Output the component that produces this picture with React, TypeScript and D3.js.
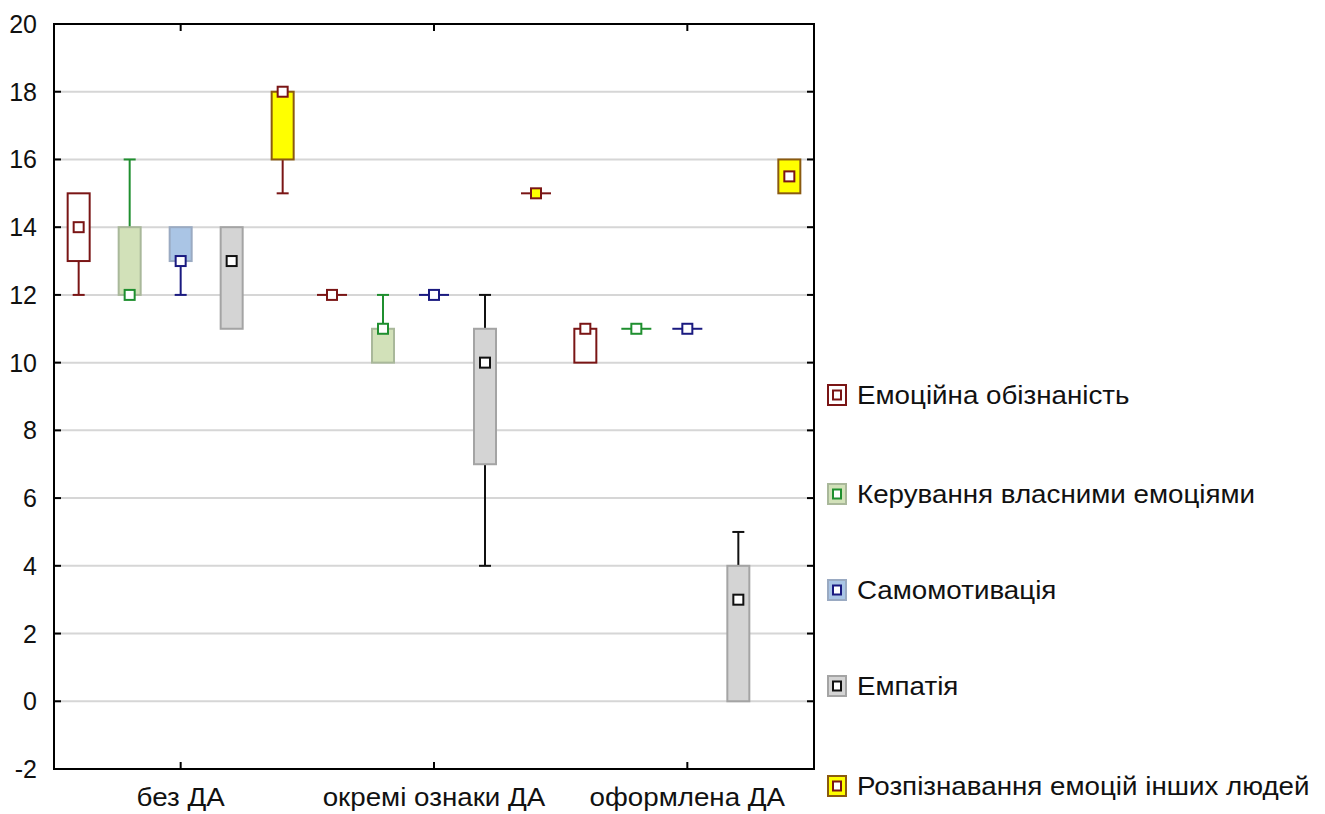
import React from "react";
import * as d3 from "d3";

const categories = ["без ДА", "окремі ознаки ДА", "оформлена ДА"];
const seriesNames = [
  "Емоційна обізнаність",
  "Керування власними емоціями",
  "Самомотивація",
  "Емпатія",
  "Розпізнавання емоцій інших людей",
];
// per series, per category
const medianValues = [[14, 12, 11], [12, 11, 11], [13, 12, 11], [13, 10, 3], [18, 15, 15.5]];
const q1Values = [[13, 12, 10], [12, 10, 11], [13, 12, 11], [11, 7, 0], [16, 15, 15]];
const q3Values = [[15, 12, 11], [14, 11, 11], [14, 12, 11], [14, 11, 4], [18, 15, 16]];
const minValues = [[12, 12, 10], [12, 10, 11], [12, 12, 11], [11, 4, 0], [15, 15, 15]];
const maxValues = [[15, 12, 11], [16, 12, 11], [14, 12, 11], [14, 12, 5], [18, 15, 16]];
const yTicks = [-2, 0, 2, 4, 6, 8, 10, 12, 14, 16, 18, 20];

const boxFills = ["#ffffff", "#d2e1b9", "#aac5e5", "#d4d4d4", "#ffff00"];
const boxStrokes = ["#7a1515", "#a9b89a", "#9aaac2", "#a4a4a4", "#8a5a10"];
const lineColors = ["#7a1515", "#1f8f2f", "#1a1a80", "#111111", "#7a1515"];
const flatMarkerFills = ["#ffffff", "#ffffff", "#ffffff", "#ffffff", "#ffff00"];

const FONT = "'Liberation Sans', Arial, sans-serif";

export default function App() {
  const left = 54, right = 814, top = 24, bottom = 769;
  const y = d3.scaleLinear().domain([-2, 20]).range([bottom, top]);
  const x = d3.scaleBand<string>().domain(categories).range([left, right]);
  const inner = d3.scalePoint<string>().domain(seriesNames).range([-102, 102]);
  const bw = 22, cap = 12, ms = 10;

  const marks: React.ReactNode[] = [];
  seriesNames.forEach((s, si) => {
    categories.forEach((c, ci) => {
      const cx = (x(c) as number) + x.bandwidth() / 2 + (inner(s) as number);
      const q1 = q1Values[si][ci], q3 = q3Values[si][ci];
      const mn = minValues[si][ci], mx = maxValues[si][ci], md = medianValues[si][ci];
      const col = lineColors[si];
      const k = `${si}-${ci}`;
      if (mx > q3) {
        marks.push(<line key={k + "wu"} x1={cx} x2={cx} y1={y(q3)} y2={y(mx)} stroke={col} strokeWidth={2} />);
        marks.push(<line key={k + "cu"} x1={cx - cap / 2} x2={cx + cap / 2} y1={y(mx)} y2={y(mx)} stroke={col} strokeWidth={2} />);
      }
      if (mn < q1) {
        marks.push(<line key={k + "wl"} x1={cx} x2={cx} y1={y(q1)} y2={y(mn)} stroke={col} strokeWidth={2} />);
        marks.push(<line key={k + "cl"} x1={cx - cap / 2} x2={cx + cap / 2} y1={y(mn)} y2={y(mn)} stroke={col} strokeWidth={2} />);
      }
      if (q3 > q1) {
        marks.push(
          <rect key={k + "b"} x={cx - bw / 2} y={y(q3)} width={bw} height={y(q1) - y(q3)}
            fill={boxFills[si]} stroke={boxStrokes[si]} strokeWidth={2} />
        );
      } else {
        marks.push(<line key={k + "z"} x1={cx - 15} x2={cx + 15} y1={y(q1)} y2={y(q1)} stroke={col} strokeWidth={2} />);
      }
      marks.push(
        <rect key={k + "m"} x={cx - ms / 2} y={y(md) - ms / 2} width={ms} height={ms}
          fill={q3 > q1 ? "#ffffff" : flatMarkerFills[si]} stroke={col} strokeWidth={2} />
      );
    });
  });

  const legendY = [395, 494, 590, 686, 786];
  const stretch = (ax: number) => `translate(${ax},0) scale(1.11,1) translate(${-ax},0)`;

  return (
    <svg width={1325} height={814} style={{ position: "absolute", left: 0, top: 0, background: "#fff" }}
      fontFamily={FONT}>
      <rect x={0} y={0} width={1325} height={814} fill="#ffffff" />
      {yTicks.filter((t) => t > -2 && t < 20).map((t) => (
        <line key={"g" + t} x1={left} x2={right} y1={y(t)} y2={y(t)} stroke="#d6d6d6" strokeWidth={2} />
      ))}
      {yTicks.map((t) => (
        <g key={"t" + t}>
          <line x1={left} x2={left + 7} y1={y(t)} y2={y(t)} stroke="#000" strokeWidth={2} />
          <line x1={right - 7} x2={right} y1={y(t)} y2={y(t)} stroke="#000" strokeWidth={2} />
          <text x={37} y={y(t)} dy="0.36em" textAnchor="end" fontSize={25} fill="#111">{t}</text>
        </g>
      ))}
      {categories.map((c) => {
        const cx = (x(c) as number) + x.bandwidth() / 2;
        return (
          <g key={"c" + c}>
            <line x1={cx} x2={cx} y1={bottom} y2={bottom - 7} stroke="#000" strokeWidth={2} />
            <line x1={cx} x2={cx} y1={top} y2={top + 7} stroke="#000" strokeWidth={2} />
            <text x={cx} y={806} textAnchor="middle" fontSize={25} fill="#111" transform={stretch(cx)}>{c}</text>
          </g>
        );
      })}
      <rect x={left} y={top} width={right - left} height={bottom - top} fill="none" stroke="#000" strokeWidth={2} />
      {marks}
      {seriesNames.map((s, si) => (
        <g key={"l" + si}>
          <rect x={828} y={legendY[si] - 10} width={18} height={20} fill={boxFills[si]} stroke={boxStrokes[si]} strokeWidth={2} />
          <rect x={833} y={legendY[si] - 4.5} width={8} height={9} fill="#ffffff" stroke={lineColors[si]} strokeWidth={2} />
          <text x={857} y={legendY[si]} dy="0.36em" fontSize={25} fill="#111" transform={stretch(857)}>{s}</text>
        </g>
      ))}
    </svg>
  );
}
